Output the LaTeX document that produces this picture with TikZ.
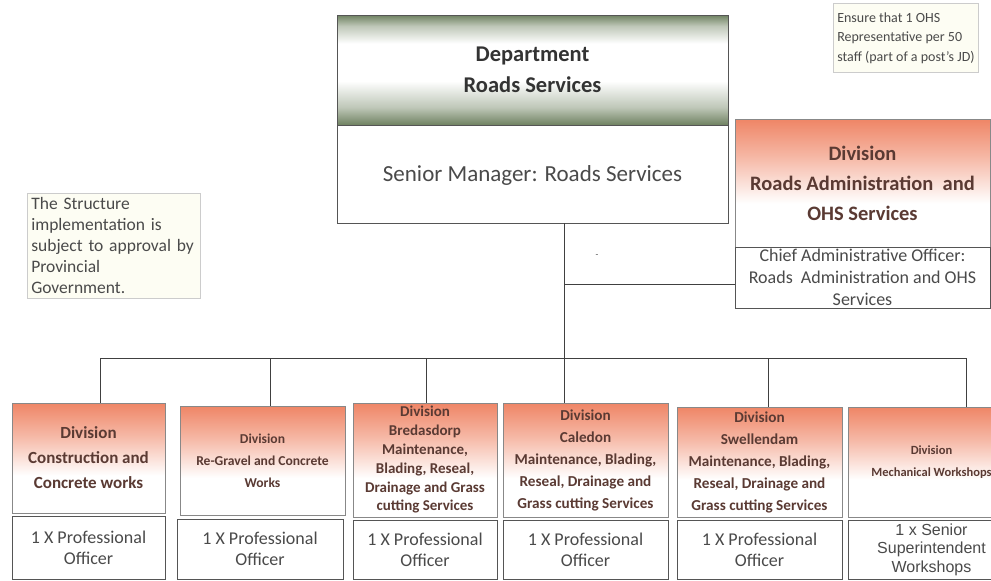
\documentclass[tikz,border=0pt]{standalone}
\usepackage{fontspec}
\setmainfont{Carlito}
\newfontfamily\arialf{Liberation Sans}
\definecolor{salm}{HTML}{EE7F5E}
\definecolor{dgreen}{HTML}{6F8261}
\definecolor{divtext}{HTML}{5A3A33}
\definecolor{gtext}{HTML}{4A4A4A}
\definecolor{notefill}{HTML}{FDFDF3}
\definecolor{boxline}{HTML}{555555}
\pgfdeclareverticalshading{orangefade}{100bp}{color(0bp)=(white); color(25bp)=(white); color(42bp)=(white); color(60bp)=(salm!55); color(75bp)=(salm!95); color(100bp)=(salm)}
\pgfdeclareverticalshading{greenfade}{100bp}{color(0bp)=(dgreen); color(25bp)=(dgreen); color(33bp)=(dgreen!45); color(45bp)=(white); color(62bp)=(white); color(70bp)=(dgreen!45); color(75bp)=(dgreen); color(100bp)=(dgreen)}
\tikzset{
  hdr/.style={draw=boxline!70, line width=0.8pt, shading=orangefade, align=center, text=divtext, inner sep=1pt},
  lowbox/.style={draw=boxline, line width=0.9pt, fill=white, align=center, text=gtext, inner sep=1pt},
  deptbox/.style={draw=boxline, line width=0.9pt, shading=greenfade, align=center, text=black!80, inner sep=2pt},
  notebox/.style={draw=black!20, line width=0.6pt, fill=notefill, align=left, text=gtext, inner xsep=4pt, inner ysep=2pt, anchor=north west},
  conn/.style={draw=black!75, line width=0.9pt}
}
\newcommand{\fs}[2]{\fontsize{#1}{#2}\selectfont}
\begin{document}
\begin{tikzpicture}[x=1pt,y=-1pt]
\useasboundingbox (0,0) rectangle (991,581);
\clip (0,0) rectangle (991,581);
\fill[white] (0,0) rectangle (991,581);

% Department
\node[deptbox, minimum width=391, minimum height=110, font=\bfseries\fs{22.5}{31}] (dept) at (532.5,70) {Department\\Roads Services};
\node[lowbox, minimum width=391, minimum height=98, font=\fs{23}{26}, text depth=-2pt] (sm) at (532.5,174) {Senior Manager: Roads Services};

% Right division
\node[hdr, minimum width=255, minimum height=128, font=\bfseries\fs{20.5}{30}] (adm) at (862.5,183) {Division\\Roads Administration\ \ and\\OHS Services};
\node[lowbox, minimum width=255, minimum height=61, font=\fs{18}{22}] (cao) at (862.5,277.5) {Chief Administrative Officer:\\Roads\ \ Administration and OHS\\Services};

% Notes
\node[notebox, minimum height=69, font=\fs{14}{19.5}] (note1) at (833,3) {Ensure that 1 OHS\\Representative per 50\\staff (part of a post's JD)};
\node[notebox, text width=165, minimum height=105, font=\fs{17.5}{21}] (note2) at (27,193) {The Structure\\implementation is\\subject to approval by\\Provincial\\Government.};

% stray mark
\node[font=\fs{9}{9}, text=black!70, inner sep=0pt] (mark) at (597,256) {-};

% Bottom divisions
\node[hdr, minimum width=153, minimum height=110, font=\bfseries\fs{17}{25}] (h1) at (88.5,458) {Division\\Construction and\\Concrete works};
\node[lowbox, minimum width=153, minimum height=63, font=\fs{18}{21}] (l1) at (88.5,547.5) {1 X Professional\\Officer};

\node[hdr, minimum width=165, minimum height=109, font=\bfseries\fs{13.6}{22}] (h2) at (262.5,460.5) {Division\\Re-Gravel and Concrete\\Works};
\node[lowbox, minimum width=166, minimum height=60, font=\fs{18}{21}] (l2) at (260,549) {1 X Professional\\Officer};

\node[hdr, minimum width=144, minimum height=114, font=\bfseries\fs{15}{18.8}] (h3) at (425,460) {Division\\Bredasdorp\\Maintenance,\\Blading, Reseal,\\Drainage and Grass\\cutting Services};
\node[lowbox, minimum width=144, minimum height=59, font=\fs{18}{21}] (l3) at (425,549.5) {1 X Professional\\Officer};

\node[hdr, minimum width=165, minimum height=114, font=\bfseries\fs{15.2}{22}] (h4) at (585.5,460) {Division\\Caledon\\Maintenance, Blading,\\Reseal, Drainage and\\Grass cutting Services};
\node[lowbox, minimum width=165, minimum height=59, font=\fs{18}{21}] (l4) at (585.5,549.5) {1 X Professional\\Officer};

\node[hdr, minimum width=165, minimum height=110, font=\bfseries\fs{15.2}{22}] (h5) at (759.5,462) {Division\\Swellendam\\Maintenance, Blading,\\Reseal, Drainage and\\Grass cutting Services};
\node[lowbox, minimum width=165, minimum height=59, font=\fs{18}{21}] (l5) at (759.5,549.5) {1 X Professional\\Officer};

\node[hdr, minimum width=167, minimum height=110, font=\bfseries\fs{12.5}{22}] (h6) at (931.5,462) {Division\\Mechanical Workshops};
\node[lowbox, minimum width=167, minimum height=59, font=\arialf\fs{16}{18.5}] (l6) at (931.5,549.5) {1 x Senior\\Superintendent\\Workshops};

% Connectors
\coordinate (bus) at (564,358);
\coordinate (br) at (564,284);
\coordinate (d1) at (100,358);
\coordinate (d2) at (270,358);
\coordinate (d3) at (426,358);
\coordinate (d5) at (768,358);
\coordinate (d6) at (966,358);
\draw[conn] (sm.south -| bus) -- (bus);
\draw[conn] (br) -- (br -| cao.west);
\draw[conn] (d1) -- (d6);
\draw[conn] (d1) -- (d1 |- h1.north);
\draw[conn] (d2) -- (d2 |- h2.north);
\draw[conn] (d3) -- (d3 |- h3.north);
\draw[conn] (bus) -- (bus |- h4.north);
\draw[conn] (d5) -- (d5 |- h5.north);
\draw[conn] (d6) -- (d6 |- h6.north);
\end{tikzpicture}
\end{document}
